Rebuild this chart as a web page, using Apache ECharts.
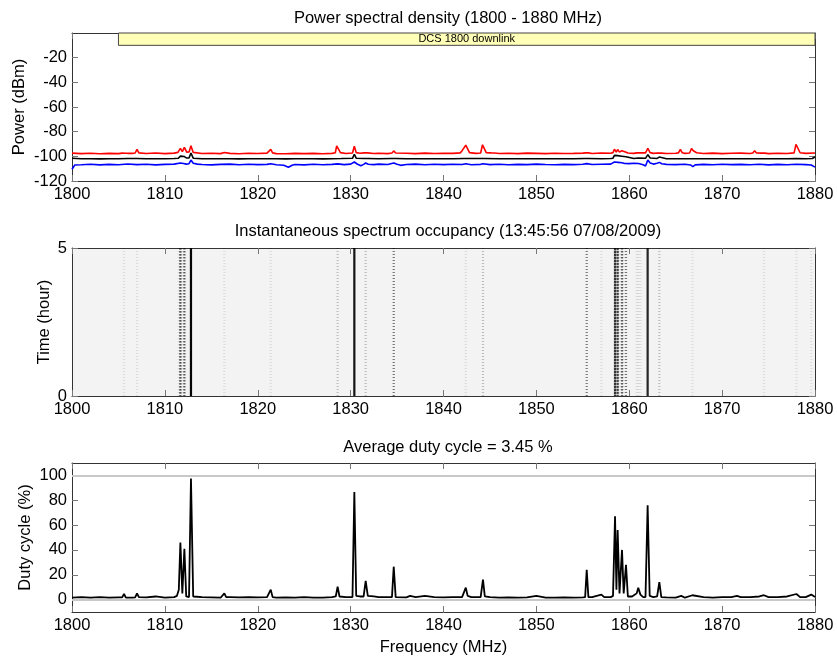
<!DOCTYPE html>
<html>
<head>
<meta charset="utf-8">
<script src="https://cdn.jsdelivr.net/npm/echarts@6.0.0/dist/echarts.min.js"></script>
<style>
  html, body { margin: 0; padding: 0; background: #fff; }
  #chart { width: 837px; height: 662px; }
</style>
</head>
<body>
<div id="chart"></div>
<script>
// tick labels
const freqTicks = [1800, 1810, 1820, 1830, 1840, 1850, 1860, 1870, 1880];
const powerTicks = [-120, -100, -80, -60, -40, -20];
const timeTicks = [0, 5];
const dutyTicks = [0, 20, 40, 60, 80, 100];
const dutyRefLines = [0, 100];

// band annotation
const bandLabel = 'DCS 1800 downlink';
const bandFreq = [1805, 1880];
const bandPower = [0, -10];

// texts
const titles = [
  'Power spectral density (1800 - 1880 MHz)',
  'Instantaneous spectrum occupancy (13:45:56 07/08/2009)',
  'Average duty cycle = 3.45 %'
];

// PSD, max (dBm)
const psdMax = [
  [1800,-97.4],[1801,-97.8],[1802,-97.5],[1803,-97.9],[1804,-97.6],[1805,-97.8],
  [1805.4,-97.4],[1805.6,-95.8],[1805.8,-97.5],[1806.1,-97.6],[1806.3,-96.6],[1806.5,-97.6],
  [1806.8,-97.3],[1807.0,-94.4],[1807.2,-97.2],[1808,-97.7],[1809,-97.3],[1810,-97.8],
  [1811,-97.4],[1811.4,-96.8],[1811.67,-93.6],[1811.88,-96.2],[1812.1,-92.8],[1812.35,-96.6],
  [1812.6,-96.4],[1812.81,-91.5],[1813.05,-96.8],[1814,-97.7],[1815,-97.5],[1816,-97.8],
  [1816.4,-96.9],[1817,-97.6],[1818,-97.9],[1819,-97.5],[1820,-97.7],[1821,-97.4],
  [1821.2,-97.3],[1821.4,-94.4],[1821.6,-97.2],[1822,-97.8],[1823,-97.9],[1824,-97.6],
  [1825,-97.8],[1826,-97.6],[1827,-97.9],[1828,-97.6],[1828.35,-97.1],[1828.5,-91.6],
  [1828.7,-91.2],[1828.9,-97],[1829.5,-97.7],[1830.2,-97.3],[1830.4,-91.8],[1830.6,-97],
  [1831,-97.5],[1831.45,-97.2],[1831.62,-96.3],[1831.8,-97.2],[1832.5,-97.7],[1833,-97.5],
  [1834,-97.8],[1834.45,-97.3],[1834.64,-95.6],[1834.85,-97.3],[1835,-97.6],[1836,-97.5],
  [1837,-97.8],[1838,-97.4],[1839,-97.7],[1840,-97.5],[1841,-97.6],[1841.8,-97.2],
  [1842.0,-95.4],[1842.2,-94],[1842.4,-91],[1842.6,-91.5],[1842.8,-97],[1843.5,-97.6],
  [1844.0,-97.3],[1844.2,-90.6],[1844.4,-91.5],[1844.6,-97],[1845.1,-97.2],[1845.3,-96.5],
  [1845.5,-97.3],[1846,-97.7],[1847,-97.5],[1848,-97.8],[1849,-97.4],[1850,-97.6],
  [1851,-97.8],[1852,-97.5],[1853,-97.7],[1854,-97.6],[1855,-97.4],[1855.25,-97.2],
  [1855.42,-96.4],[1855.6,-97.2],[1856,-97.7],[1857,-97.3],[1858,-97.5],[1858.25,-97],
  [1858.4,-94.2],[1858.6,-96.5],[1858.75,-94.5],[1858.95,-96.6],[1859.2,-95.4],[1859.4,-96.8],
  [1859.6,-96.5],[1859.85,-97.3],[1860.5,-97.6],[1860.8,-97.2],[1861.0,-96.4],[1861.2,-97.1],
  [1861.75,-97.2],[1862,-93.6],[1862.25,-97],[1862.6,-97.6],[1863,-97.3],[1863.2,-96.5],
  [1863.45,-97.4],[1864,-97.7],[1865,-97.5],[1865.3,-97.2],[1865.5,-94.4],[1865.7,-97.1],
  [1866,-97.6],[1866.5,-97.3],[1866.7,-93.6],[1866.9,-95.5],[1867.05,-94.5],[1867.25,-97.1],
  [1868,-97.7],[1869,-97.4],[1870,-97.8],[1871,-97.5],[1872,-97.4],[1873,-97.7],
  [1873.3,-97.3],[1873.5,-95.5],[1873.7,-97.3],[1874.2,-97.4],[1874.4,-96.5],[1874.6,-97.4],
  [1875,-97.8],[1876,-97.5],[1877,-97.7],[1877.75,-97.2],[1877.95,-90.3],[1878.15,-91.2],
  [1878.4,-97.1],[1879,-97.6],[1880,-97.3]
];

// PSD, mean (dBm)
const psdMean = [
  [1800,-101.5],[1801,-102],[1802,-101.9],[1803,-102.1],[1804,-101.9],[1805,-102],
  [1806,-101.8],[1807,-101.7],[1808,-102],[1809,-101.9],[1810,-102],[1811,-101.8],
  [1811.45,-101.5],[1811.67,-99.8],[1811.88,-101.2],[1812.1,-100.2],[1812.35,-101.4],
  [1812.6,-101.3],[1812.81,-97.3],[1813.05,-101.5],[1814,-102],[1815,-101.9],[1816,-102],
  [1817,-101.9],[1818,-102.1],[1819,-101.9],[1820,-102],[1821,-101.9],[1822,-102],
  [1823,-102.1],[1824,-101.9],[1825,-102],[1826,-101.9],[1827,-102.1],[1828,-101.9],
  [1829,-101.8],[1830.2,-101.6],[1830.4,-98.3],[1830.6,-101.5],[1831.45,-101.8],
  [1831.62,-100.8],[1831.8,-101.8],[1833,-102],[1834.45,-101.8],[1834.64,-100.9],
  [1834.85,-101.8],[1836,-102],[1837,-101.9],[1838,-102],[1839,-101.9],[1840,-102],
  [1841,-101.9],[1842.2,-101.8],[1842.4,-101.3],[1842.6,-101.8],[1844.05,-101.8],
  [1844.2,-101.2],[1844.4,-101.8],[1846,-102],[1847,-101.9],[1848,-102],[1849,-101.9],
  [1850,-102],[1851,-101.9],[1852,-102],[1853,-101.9],[1854,-102],[1855.25,-101.8],
  [1855.42,-101.2],[1855.6,-101.8],[1857,-101.9],[1858,-101.8],[1858.25,-101.5],
  [1858.4,-99.2],[1858.6,-100.2],[1858.75,-99.4],[1858.95,-100.6],[1859.2,-99.9],
  [1859.4,-100.8],[1859.65,-100.4],[1859.85,-101.5],[1860.5,-101.8],[1861,-101.4],
  [1861.75,-101.6],[1862,-98.6],[1862.25,-101.4],[1863.0,-101.7],[1863.24,-100.6],
  [1863.45,-101.7],[1864,-102],[1865,-101.9],[1866,-102],[1867,-101.9],[1868,-102],
  [1869,-101.9],[1870,-102],[1871,-101.9],[1872,-102],[1873,-101.9],[1874,-102],
  [1875,-101.9],[1876,-102],[1877,-101.9],[1878,-101.8],[1879,-101.9],[1879.7,-101.8],
  [1880,-100.6]
];

// PSD, min (dBm)
const psdMin = [
  [1800,-110.5],[1800.3,-107],[1801,-106.8],[1802,-106.4],[1803,-106.9],[1804,-106.5],
  [1805,-106.8],[1806,-106.2],[1807,-106.7],[1808,-106.4],[1809,-106.9],[1810,-106.5],
  [1811,-106.3],[1811.67,-105.4],[1812,-105.8],[1812.3,-106.3],[1812.6,-106],[1812.81,-103],
  [1813.05,-105.6],[1813.5,-106.3],[1814,-106.6],[1815,-106.9],[1816,-106.5],[1817,-106.3],
  [1818,-106.8],[1819,-106.4],[1820,-106.7],[1821,-106.5],[1821.4,-106],[1822,-106.8],
  [1822.8,-107.2],[1823.3,-108.8],[1823.7,-107.2],[1824,-106.6],[1825,-106.9],[1826,-106.4],
  [1827,-106.8],[1828,-106.5],[1828.6,-106.1],[1829.3,-106.7],[1830,-106.3],[1830.4,-104.6],
  [1830.7,-106.2],[1831.1,-107.6],[1831.4,-106.5],[1831.62,-105.4],[1831.9,-106.4],
  [1832.5,-106.7],[1833,-106.3],[1834,-106.6],[1834.64,-105.4],[1835,-106.5],[1835.4,-107.3],
  [1836,-106.6],[1837,-106.3],[1838,-106.8],[1839,-106.4],[1840,-106.7],[1841,-106.4],
  [1842,-106.6],[1842.4,-106],[1843,-106.8],[1844,-106.5],[1844.25,-106],[1845,-106.7],
  [1846,-106.4],[1847,-106.8],[1848,-106.5],[1849,-106.7],[1850,-106.3],[1851,-106.6],
  [1852,-106.8],[1853,-106.5],[1854,-106.7],[1855,-106.4],[1855.42,-105.9],[1856,-106.6],
  [1857,-106.4],[1858,-106.3],[1858.4,-104.6],[1858.6,-105.4],[1858.8,-104.9],[1859.0,-105.6],
  [1859.2,-105.2],[1859.5,-105.8],[1860,-105.9],[1860.5,-105.6],[1861,-105.8],[1861.5,-106.8],
  [1861.75,-107.8],[1862,-103],[1862.25,-105.4],[1862.6,-106.3],[1863,-105.6],[1863.24,-104.9],
  [1863.5,-106],[1864,-106.5],[1865,-106.7],[1866,-106.4],[1866.6,-107],[1866.85,-108.3],
  [1867.1,-106.9],[1868,-106.5],[1869,-106.8],[1870,-106.4],[1871,-106.7],[1872,-106.5],
  [1873,-106.8],[1874,-106.4],[1875,-106.9],[1876,-106.5],[1877,-106.8],[1878,-106.4],
  [1879,-106.7],[1879.6,-107],[1880,-108.8]
];

// duty cycle (%)
const dutyCycle = [
  [1800,1.5],[1801,2],[1802,1.5],[1803,2],[1804,1.5],[1805,1.8],
  [1805.4,1.8],[1805.6,4.5],[1805.8,1.5],[1806.1,1.5],[1806.3,3],[1806.5,1.5],
  [1806.8,1.8],[1807.0,5],[1807.2,2],[1808,1.8],[1809,2.5],[1810,1.5],[1811,2],[1811.3,3],
  [1811.5,8],[1811.67,46],[1811.88,5],[1812.1,41],[1812.3,2.5],[1812.6,2],[1812.81,97.5],
  [1813.05,2.5],[1814,2],[1815,1.8],[1816,1.5],[1816.2,2],[1816.4,5],[1816.6,2],[1817,2],
  [1818,1.8],[1819,2],[1820,1.8],[1821,2],[1821.2,2],[1821.4,8],[1821.6,2],[1822,1.5],
  [1823,1.8],[1824,1.5],[1825,2],[1826,1.5],[1827,1.5],[1828,2],[1828.4,2.5],[1828.6,10.5],
  [1828.8,2.5],[1829.5,2],[1830.2,2],[1830.4,86.7],[1830.6,3],[1831,2.5],[1831.4,2.5],
  [1831.62,15],[1831.85,3],[1832.5,2.5],[1833,2],[1834,2],[1834.45,2],[1834.64,26.5],
  [1834.85,2],[1835,2],[1836,1.8],[1836.4,3],[1837,2],[1838,3],[1839,2],[1840,1.8],
  [1841,2],[1842,2],[1842.2,3],[1842.4,9.6],[1842.6,3],[1843,2],[1844,2],[1844.1,2],
  [1844.25,16],[1844.45,2.5],[1845,2],[1846,1.5],[1847,1.8],[1848,1.5],[1849,1.8],[1850,3],
  [1851,1.5],[1852,1.5],[1853,1.8],[1854,1.5],[1855,1.8],[1855.25,2],[1855.42,24],
  [1855.6,2],[1856,2],[1857,4],[1857.3,2],[1858,2],[1858.25,3],[1858.47,67],[1858.62,8],
  [1858.75,56],[1858.95,5],[1859.22,40],[1859.4,5],[1859.65,28],[1859.85,2.5],[1860.3,2.5],
  [1860.8,5],[1860.97,9.6],[1861.2,4],[1861.5,2],[1861.75,2],[1861.98,76],[1862.2,3],
  [1862.6,2],[1863,2.5],[1863.24,14],[1863.45,2],[1864,1.8],[1865,1.5],[1865.6,3],[1866,1.5],
  [1866.8,3.5],[1867,2],[1868,2],[1869,1.5],[1870,2],[1871,2],[1871.6,3],[1872,2],[1873,2],
  [1874,2.5],[1874.5,3.5],[1875,2],[1876,2],[1877,2.5],[1878,4.5],[1878.4,2],[1879,2],
  [1879.6,4],[1880,2]
];

const FONT = '"Liberation Sans", Arial, sans-serif';
const FS = 16.5;

const chart = echarts.init(document.getElementById('chart'));

const grids = [
  { left: 72, top: 33, width: 743, height: 148 },
  { left: 72, top: 248, width: 743, height: 148, show: true, backgroundColor: '#f3f3f3', borderWidth: 0 },
  { left: 72, top: 463, width: 743, height: 149 }
];

function freqAxis(g, pos, labels, name) {
  return {
    type: 'value', gridIndex: g, position: pos,
    min: freqTicks[0], max: freqTicks[freqTicks.length - 1], interval: 10,
    name: name || '', nameLocation: 'middle', nameGap: 27, nameMoveOverlap: false,
    nameTextStyle: { color: '#000', fontSize: FS, fontFamily: FONT },
    axisLine: { show: true, onZero: false, lineStyle: { color: '#333', width: 1 } },
    axisTick: { show: true, inside: true, length: 6, customValues: freqTicks, lineStyle: { color: '#777' } },
    axisLabel: { show: labels, color: '#000', fontSize: FS, fontFamily: FONT, margin: 5,
      customValues: freqTicks, formatter: v => String(v) },
    splitLine: { show: false }
  };
}

function valAxis(g, pos, labels, min, max, ticks, name, gap) {
  return {
    type: 'value', gridIndex: g, position: pos, min: min, max: max,
    name: name || '', nameLocation: 'middle', nameGap: gap || 0, nameMoveOverlap: false,
    nameTextStyle: { color: '#000', fontSize: FS, fontFamily: FONT },
    axisLine: { show: true, onZero: false, lineStyle: { color: '#333', width: 1 } },
    axisTick: { show: true, inside: true, length: 6, customValues: ticks, lineStyle: { color: '#777' } },
    axisLabel: { show: labels, color: '#000', fontSize: FS, fontFamily: FONT, margin: 5,
      customValues: ticks, formatter: v => String(v) },
    splitLine: { show: false }
  };
}

const xAxes = [
  freqAxis(0, 'bottom', true), freqAxis(0, 'top', false),
  freqAxis(1, 'bottom', true), freqAxis(1, 'top', false),
  freqAxis(2, 'bottom', true, 'Frequency (MHz)'), freqAxis(2, 'top', false)
];
const yAxes = [
  valAxis(0, 'left', true, -120, 0, powerTicks, 'Power (dBm)', 44),
  valAxis(0, 'right', false, -120, 0, powerTicks),
  valAxis(1, 'left', true, 0, 5, timeTicks, 'Time (hour)', 19),
  valAxis(1, 'right', false, 0, 5, timeTicks),
  valAxis(2, 'left', true, -10, 110, dutyTicks, 'Duty cycle (%)', 38),
  valAxis(2, 'right', false, -10, 110, dutyTicks)
];

function psdLine(name, data, color) {
  return {
    name: name, type: 'line', xAxisIndex: 0, yAxisIndex: 0, data: data,
    showSymbol: false, lineStyle: { color: color, width: 1.6 }, z: 3
  };
}

const option = {
  animation: false,
  title: titles.map((t, i) => ({
    text: t, left: 443, textAlign: 'center', top: [5, 218, 434][i],
    textStyle: { color: '#000', fontSize: FS, fontWeight: 'normal', fontFamily: FONT }
  })),
  grid: grids,
  xAxis: xAxes,
  yAxis: yAxes,
  series: [
    psdLine('max', psdMax, '#ff0000'),
    psdLine('mean', psdMean, '#000000'),
    psdLine('min', psdMin, '#0000ff'),
    {
      type: 'line', xAxisIndex: 0, yAxisIndex: 0, data: [], z: 5,
      markArea: {
        silent: true,
        itemStyle: { color: '#ffffb8', borderColor: '#444', borderWidth: 1 },
        label: { show: true, position: 'inside', color: '#000', fontSize: 11, fontFamily: FONT },
        data: [[{ name: bandLabel, coord: [bandFreq[0], bandPower[0]] }, { coord: [bandFreq[1], bandPower[1]] }]]
      }
    },
    {
      type: 'custom', xAxisIndex: 2, yAxisIndex: 2, data: dutyCycle,
      encode: { x: 0, y: 1 }, clip: true,
      renderItem: function (params, api) {
        const f = api.value(0);
        const d = api.value(1) / 100;
        if (d < 0.03) return;
        const top = api.coord([f, timeTicks[1]]);
        const bot = api.coord([f, timeTicks[0]]);
        const w = api.size([0.24, 0])[0];
        const on = Math.min(3, 3 * d * 1.3);
        const off = 3 - on;
        return {
          type: 'line',
          shape: { x1: top[0], y1: top[1], x2: bot[0], y2: bot[1] },
          style: {
            stroke: '#000', lineWidth: w, opacity: 0.35 + 0.65 * d,
            lineDash: off > 0.3 ? [on, off] : null
          }
        };
      }
    },
    {
      type: 'line', xAxisIndex: 4, yAxisIndex: 4, data: [], z: 1,
      markLine: {
        silent: true, symbol: 'none', label: { show: false },
        lineStyle: { color: '#c8c8c8', width: 2, type: 'solid' },
        data: dutyRefLines.map(v => ({ yAxis: v }))
      }
    },
    {
      name: 'duty', type: 'line', xAxisIndex: 4, yAxisIndex: 4, data: dutyCycle,
      showSymbol: false, lineStyle: { color: '#000', width: 1.8 }, z: 3
    }
  ]
};

chart.setOption(option);
</script>
</body>
</html>
